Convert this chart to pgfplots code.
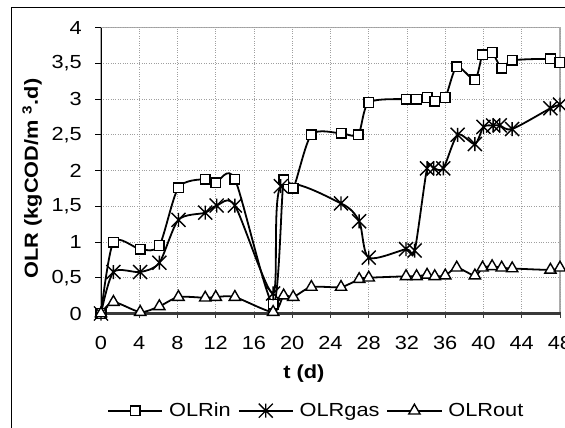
\documentclass[border=0pt]{standalone}
\usepackage{fontspec}
\setmainfont{Liberation Sans}[FakeStretch=1.15]
\usepackage{pgfplots}
\pgfplotsset{compat=1.18}
\pgfdeclareplotmark{xstar}{%
  \pgfpathmoveto{\pgfqpoint{-\pgfplotmarksize}{-\pgfplotmarksize}}%
  \pgfpathlineto{\pgfqpoint{\pgfplotmarksize}{\pgfplotmarksize}}%
  \pgfpathmoveto{\pgfqpoint{-\pgfplotmarksize}{\pgfplotmarksize}}%
  \pgfpathlineto{\pgfqpoint{\pgfplotmarksize}{-\pgfplotmarksize}}%
  \pgfpathmoveto{\pgfqpoint{0pt}{-\pgfplotmarksize}}%
  \pgfpathlineto{\pgfqpoint{0pt}{\pgfplotmarksize}}%
  \pgfusepathqstroke}
\begin{document}
\begin{tikzpicture}
\useasboundingbox (0bp,0bp) rectangle (565bp,428bp);
\begin{scope}
\clip (0bp,0bp) rectangle (565bp,428bp);
\draw[black, line width=1bp] (11.5bp,-20bp) -- (11.5bp,420.5bp) -- (600bp,420.5bp);
\draw[gray!65, line width=1.6bp] (101bp,114.5bp) rectangle (560bp,400.5bp);
\end{scope}
\begin{axis}[
  at={(101bp,114.5bp)}, anchor=south west,
  scale only axis, width=459bp, height=286bp,
  xmin=0, xmax=48, ymin=0, ymax=4,
  xtick={0,4,...,48}, ytick={0,0.5,...,4},
  axis x line*=bottom, axis y line*=left,
  x axis line style={draw=gray!45!black, line width=2.4bp, -},
  y axis line style={draw=black, line width=0.8bp, -},
  grid=major,
  major grid style={gray!75, dotted, line width=0.8bp},
  tick align=center, major tick length=6bp,
  x tick style={draw=gray!45!black, line width=0.8bp, yshift=-1.5bp},
  y tick style={draw=black, line width=0.8bp, xshift=-3bp},
  /pgf/number format/assume math mode=true,
  /pgf/number format/use comma,
  ticklabel style={font=\fontsize{19}{22}\selectfont, inner sep=0pt},
  yticklabel style={anchor=east, xshift=-16bp},
  xticklabel style={anchor=north, yshift=-20bp},
  xlabel={\textbf{t (d)}},
  ylabel={\textbf{OLR (kgCOD/m \textsuperscript{3}.d)}},
  label style={font=\fontsize{19}{22}\selectfont},
  xlabel style={at={(axis description cs:0.442,-0.21)}, anchor=center},
  ylabel style={at={(axis description cs:-0.150,0.472)}, anchor=center},
  legend columns=-1,
  legend style={draw=none, fill=none, inner sep=0pt,
    at={(axis description cs:0.467,-0.34)}, anchor=center,
    font=\fontsize{19}{22}\selectfont,
    nodes={inner sep=0pt},
    /tikz/every odd column/.append style={column sep=6bp},
    /tikz/every even column/.append style={column sep=7bp}},
  legend image code/.code={
    \draw[mark repeat=2, mark phase=2, #1] plot coordinates {(0bp,0bp) (27bp,0bp) (54bp,0bp)};},
  ser/.style={black, line width=1.8bp, smooth, tension=0.45,
    mark options={fill=white, draw=black, solid, line width=1.4bp}},
]
\addplot[ser, mark=square*, mark size=4.8bp] coordinates {
(0,0) (1.3,1.0) (4.1,0.9) (6.1,0.95) (8.1,1.76) (10.9,1.88) (12,1.83) (14,1.88)
(18,0.13) (19.1,1.87) (20.1,1.75) (22,2.5) (25.1,2.52) (26.9,2.5) (28,2.95)
(31.9,3.0) (33,3.0) (34.1,3.02) (34.9,2.97) (36,3.02) (37.2,3.45) (39.1,3.27)
(39.9,3.62) (40.9,3.65) (41.9,3.43) (43,3.54) (47,3.56) (48,3.51)};
\addlegendentry{OLRin}
\addplot[ser, mark=xstar, mark size=7bp] coordinates {
(0,0) (1.3,0.58) (4.1,0.58) (6.1,0.71) (8.1,1.31) (10.9,1.41) (12.1,1.51) (14,1.51)
(18,0.28) (18.8,1.78) (25.1,1.54) (27,1.29) (28,0.78) (31.9,0.9) (32.8,0.88)
(34.1,2.03) (34.8,2.03) (35.8,2.03) (37.3,2.50) (39.1,2.37) (40,2.61) (41,2.63)
(41.7,2.63) (43,2.58) (47,2.87) (48,2.92)};
\addlegendentry{OLRgas}
\addplot[ser, mark=triangle*, mark size=6.5bp] coordinates {
(0,0) (1.3,0.16) (4.1,0.02) (6.1,0.10) (8.1,0.23) (10.9,0.22) (12,0.23) (14,0.23)
(18,0.02) (19.1,0.25) (20.1,0.23) (22,0.37) (25.1,0.37) (27,0.48) (28,0.50)
(31.9,0.52) (33,0.52) (34.1,0.54) (34.9,0.52) (36,0.53) (37.2,0.64) (39.1,0.53)
(39.9,0.64) (40.9,0.66) (41.9,0.64) (43,0.63) (47,0.61) (48,0.64)};
\addlegendentry{OLRout}
\end{axis}
\end{tikzpicture}
\end{document}
